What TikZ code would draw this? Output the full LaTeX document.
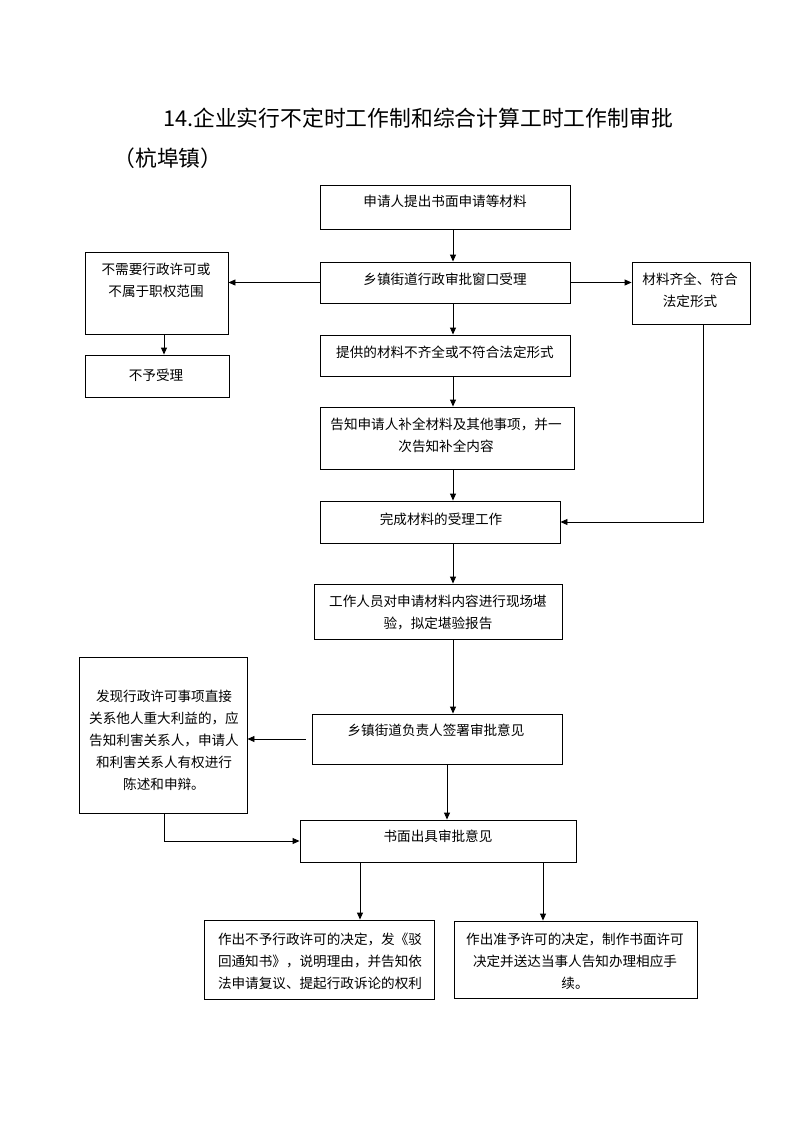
\documentclass[tikz,border=0pt]{standalone}
\usepackage{fontspec}
\setmainfont{Noto Sans CJK SC}
\usetikzlibrary{arrows.meta}
\begin{document}
\begin{tikzpicture}[x=1pt,y=-1pt,
  box/.style={draw,line width=0.9pt,rectangle,inner sep=0pt},
  txt/.style={align=center,font=\fontsize{13.6pt}{22pt}\selectfont,inner sep=0pt},
  arr/.style={line width=0.9pt,-{Triangle[length=7pt,width=6pt]}},
  ln/.style={line width=0.9pt}]
\useasboundingbox (0,0) rectangle (793,1122);
\fill[white] (0,0) rectangle (793,1122);
% title
\node[inner sep=0pt,font=\fontsize{21.8pt}{26pt}\selectfont] (title) at (418,118) {14.企业实行不定时工作制和综合计算工时工作制审批};
\node[inner sep=0pt,font=\fontsize{21.8pt}{26pt}\selectfont] (sub) at (168,158) {（杭埠镇）};
% boxes
\node[box,minimum width=250pt,minimum height=44pt] (b1) at (445,207) {};
\node[box,minimum width=250pt,minimum height=41pt] (b2) at (445,282.5) {};
\node[box,minimum width=250pt,minimum height=41pt] (b3) at (445,355.5) {};
\node[box,minimum width=254pt,minimum height=62pt] (b4) at (447,438) {};
\node[box,minimum width=240pt,minimum height=42pt] (b5) at (440,522) {};
\node[box,minimum width=248pt,minimum height=55pt] (b6) at (438,611.5) {};
\node[box,minimum width=250pt,minimum height=50pt] (b7) at (437,739) {};
\node[box,minimum width=276pt,minimum height=42pt] (b8) at (438,841) {};
\node[box,minimum width=143pt,minimum height=82pt] (l1) at (156.5,293) {};
\node[box,minimum width=144pt,minimum height=42pt] (l2) at (157,376) {};
\node[box,minimum width=118pt,minimum height=62pt] (r1) at (691,293) {};
\node[box,minimum width=168pt,minimum height=156pt] (l3) at (163,735) {};
\node[box,minimum width=230pt,minimum height=79pt] (d1) at (319,959.5) {};
\node[box,minimum width=243pt,minimum height=77pt] (d2) at (575.5,959.5) {};
% texts
\node[txt] (t1) at (445,201) {申请人提出书面申请等材料};
\node[txt] (t2) at (445,279) {乡镇街道行政审批窗口受理};
\node[txt] (t3) at (445,352) {提供的材料不齐全或不符合法定形式};
\node[txt] (t4) at (446,435) {告知申请人补全材料及其他事项，并一\\次告知补全内容};
\node[txt] (t5) at (441,519) {完成材料的受理工作};
\node[txt] (t6) at (438,612) {工作人员对申请材料内容进行现场堪\\验，拟定堪验报告};
\node[txt] (t7) at (436,730) {乡镇街道负责人签署审批意见};
\node[txt] (t8) at (438,836) {书面出具审批意见};
\node[txt] (tl1) at (156,280) {不需要行政许可或\\不属于职权范围};
\node[txt] (tl2) at (156,375) {不予受理};
\node[txt] (tr1) at (690,290) {材料齐全、符合\\法定形式};
\node[txt] (tl3) at (164,740) {发现行政许可事项直接\\关系他人重大利益的，应\\告知利害关系人，申请人\\和利害关系人有权进行\\陈述和申辩。};
\node[txt] (td1) at (320,961) {作出不予行政许可的决定，发《驳\\回通知书》，说明理由，并告知依\\法申请复议、提起行政诉论的权利};
\node[txt] (td2) at (575,961) {作出准予许可的决定，制作书面许可\\决定并送达当事人告知办理相应手\\续。};
% helper coordinates
\coordinate (ax) at (453,0);
\coordinate (bx) at (447,0);
\coordinate (lx) at (164,0);
\coordinate (rx) at (703,0);
\coordinate (dx1) at (360,0);
\coordinate (dx2) at (543,0);
\coordinate (c7) at ([xshift=-6pt]b7.west);
% connectors
\draw[arr] (b1.south -| ax) -- (b2.north -| ax);
\draw[arr] (b2.west) -- (l1.east |- b2.west);
\draw[arr] (b2.east) -- (r1.west |- b2.east);
\draw[arr] (l1.south -| lx) -- (l2.north -| lx);
\draw[arr] (b2.south -| ax) -- (b3.north -| ax);
\draw[arr] (b3.south -| ax) -- (b4.north -| ax);
\draw[arr] (b4.south -| ax) -- (b5.north -| ax);
\draw[arr] (r1.south -| rx) |- (b5.east);
\draw[arr] (b5.south -| ax) -- (b6.north -| ax);
\draw[arr] (b6.south -| ax) -- (b7.north -| ax);
\draw[arr] (c7) -- (l3.east |- c7);
\draw[arr] (b7.south -| bx) -- (b8.north -| bx);
\draw[arr] (l3.south -| lx) |- (b8.west);
\draw[arr] (b8.south -| dx1) -- (d1.north -| dx1);
\draw[arr] (b8.south -| dx2) -- (d2.north -| dx2);
\end{tikzpicture}
\end{document}
